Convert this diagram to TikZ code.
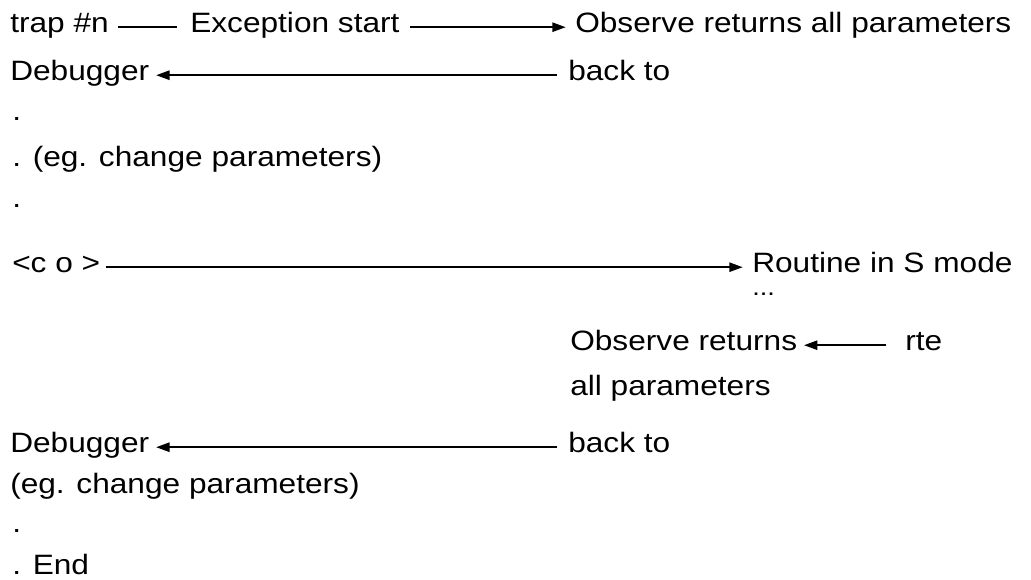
\documentclass[tikz,border=0pt]{standalone}
\usepackage{fontspec}
\setmainfont{Liberation Sans}[FakeStretch=1.13]
\usetikzlibrary{arrows.meta}
\begin{document}
\begin{tikzpicture}[x=0.75pt,y=-0.75pt,
  txt/.style={anchor=base west,inner sep=0pt,font=\fontsize{21}{25}\selectfont,
    text height=0.9em,text depth=0.18em},
  conn/.style={line width=1.2pt},
  arr/.style={conn,-{Triangle[length=10pt,width=7pt]}}]
\useasboundingbox[fill=white] (0,0) rectangle (1031,579);
\node[txt] (t1) at (10,32) {trap \#n};
\node[txt] (ex) at (190,32) {Exception start};
\node[txt] (ob1) at (575,32) {Observe returns all parameters};
\node[txt] (db1) at (10,80) {Debugger};
\node[txt] (bk1) at (568,80) {back to};
\node[txt] (d1) at (12,120) {.};
\node[txt] (eg1) at (12,166) {. (eg. change parameters)};
\node[txt] (d2) at (12,207) {.};
\node[txt] (co) at (12,272) {<c o >};
\node[txt] (rt) at (752,272) {Routine in S mode};
\node[txt,font=\fontsize{18}{20}\selectfont] (dots) at (752,295) {...};
\node[txt] (ob2) at (570,350) {Observe returns};
\node[txt] (rte) at (905,350) {rte};
\node[txt] (ap) at (570,395) {all parameters};
\node[txt] (db2) at (10,452) {Debugger};
\node[txt] (bk2) at (568,452) {back to};
\node[txt] (eg2) at (10,493) {(eg. change parameters)};
\node[txt] (d3) at (12,532) {.};
\node[txt] (end) at (12,574) {. End};
\draw[conn,shorten <=7pt,shorten >=10pt] (t1.east) -- (ex.west);
\draw[arr,shorten <=8pt,shorten >=7pt] (ex.east) -- (ob1.west);
\draw[arr,shorten <=8pt,shorten >=5pt] (bk1.west) -- (db1.east);
\draw[arr,shorten <=4pt,shorten >=7pt] (co.east) -- (rt.west);
\draw[arr,shorten <=14pt,shorten >=5pt] (rte.west) -- (ob2.east);
\draw[arr,shorten <=8pt,shorten >=5pt] (bk2.west) -- (db2.east);
\end{tikzpicture}
\end{document}
